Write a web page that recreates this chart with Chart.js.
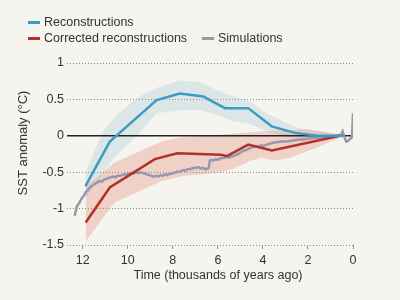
<!DOCTYPE html>
<html>
<head>
<meta charset="utf-8">
<script src="https://cdn.jsdelivr.net/npm/chart.js@4.4.1/dist/chart.umd.min.js"></script>
<style>
  html, body { margin: 0; padding: 0; background: #f5f4ee; }
  #wrap { position: relative; width: 400px; height: 300px; }
  #legend { position: absolute; left: 0; top: 0; width: 400px; height: 50px;
            font: 12.5px "Liberation Sans", Arial, sans-serif; color: #333; }
  .swatch { position: absolute; width: 12px; height: 3px; }
  .label { position: absolute; white-space: nowrap; line-height: 14px; }
</style>
</head>
<body>
<div id="wrap">
  <canvas id="chart" width="400" height="300"></canvas>
  <div id="legend"></div>
</div>
<script>
const timeTicks = [12, 10, 8, 6, 4, 2, 0];
const anomalyTicks = [1, 0.5, 0, -0.5, -1, -1.5];
const xTitle = 'Time (thousands of years ago)';
const yTitle = 'SST anomaly (°C)';
const legendLabels = ['Reconstructions', 'Corrected reconstructions', 'Simulations'];

// Reconstructions (blue)
const reconTime = [11.88, 10.8, 8.72, 7.69, 6.65, 5.69, 4.65, 3.61, 2.58, 1.6, 0.5];
const reconValues = [-0.69, -0.08, 0.49, 0.58, 0.54, 0.38, 0.38, 0.13, 0.04, 0.0, 0.0];
const reconUpperTime = [11.88, 11.1, 10.5, 9.6, 8.7, 7.7, 6.8, 6.06, 5.33, 4.58, 3.84, 3.1, 2.36, 1.6, 0.5];
const reconUpper = [-0.50, 0.06, 0.28, 0.52, 0.66, 0.76, 0.74, 0.63, 0.54, 0.47, 0.31, 0.20, 0.10, 0.06, 0.01];
const reconLowerTime = [11.88, 11.2, 10.6, 9.6, 8.7, 7.7, 6.8, 6.06, 5.33, 4.58, 3.84, 3.1, 2.36, 1.6, 0.5];
const reconLower = [-0.86, -0.55, -0.30, 0.0, 0.31, 0.35, 0.35, 0.29, 0.20, 0.17, 0.06, -0.01, -0.03, -0.03, -0.02];

// Corrected reconstructions (red)
const corrTime = [11.87, 10.8, 8.8, 7.8, 5.85, 5.6, 4.65, 3.6, 0.58];
const corrValues = [-1.19, -0.71, -0.32, -0.24, -0.26, -0.28, -0.12, -0.20, 0.0];
const corrUpperTime = [11.87, 10.6, 8.5, 7.6, 6.0, 5.0, 4.1, 2.8, 2.0, 1.3, 0.6];
const corrUpper = [-0.70, -0.37, -0.08, -0.02, 0.01, 0.04, 0.06, 0.08, 0.09, 0.06, 0.01];
const corrLowerTime = [11.87, 10.6, 8.5, 7.5, 6.0, 5.3, 4.6, 4.1, 3.5, 2.8, 2.0, 1.3, 0.6];
const corrLower = [-1.45, -0.92, -0.62, -0.55, -0.51, -0.45, -0.35, -0.30, -0.34, -0.30, -0.21, -0.12, -0.03];

// Simulations (grey)
const simTime = [12.36, 12.3, 12.25, 12.15, 12.05, 11.95, 11.85, 11.75, 11.65, 11.55, 11.45, 11.35, 11.25, 11.15,
  11.05, 10.95, 10.85, 10.75, 10.65, 10.55, 10.45, 10.35, 10.25, 10.15, 10.05, 9.95, 9.85, 9.75, 9.65, 9.55,
  9.45, 9.35, 9.25, 9.15, 9.05, 8.95, 8.85, 8.75, 8.65, 8.55, 8.45, 8.35, 8.25, 8.15, 8.05, 7.95, 7.85, 7.75,
  7.65, 7.55, 7.45, 7.35, 7.25, 7.15, 7.05, 6.95, 6.85, 6.75, 6.65, 6.55, 6.45, 6.4, 6.36, 6.3, 6.2, 6.1, 6.0,
  5.9, 5.8, 5.7, 5.6, 5.5, 5.4, 5.3, 5.2, 5.1, 5.0, 4.9, 4.8, 4.7, 4.6, 4.5, 4.4, 4.3, 4.2, 4.1, 4.0, 3.8, 3.6,
  3.4, 3.2, 3.0, 2.8, 2.6, 2.4, 2.2, 2.0, 1.8, 1.6, 1.4, 1.2, 1.0, 0.8, 0.6, 0.55, 0.46, 0.38, 0.3, 0.22, 0.12,
  0.05, 0.02, 0.0];
const simValues = [-1.10, -1.02, -0.96, -0.92, -0.86, -0.82, -0.77, -0.74, -0.70, -0.68, -0.66, -0.64, -0.62, -0.63,
  -0.60, -0.59, -0.58, -0.57, -0.56, -0.57, -0.55, -0.55, -0.54, -0.53, -0.53, -0.52, -0.51, -0.52, -0.50, -0.51,
  -0.50, -0.51, -0.52, -0.53, -0.54, -0.55, -0.56, -0.55, -0.56, -0.54, -0.55, -0.53, -0.54, -0.52, -0.52, -0.51,
  -0.50, -0.49, -0.49, -0.47, -0.48, -0.46, -0.46, -0.45, -0.44, -0.44, -0.43, -0.45, -0.44, -0.46, -0.45, -0.44,
  -0.34, -0.33, -0.34, -0.32, -0.33, -0.31, -0.31, -0.30, -0.29, -0.30, -0.28, -0.28, -0.26, -0.25, -0.23, -0.21,
  -0.20, -0.19, -0.17, -0.16, -0.15, -0.14, -0.15, -0.13, -0.14, -0.12, -0.10, -0.09, -0.08, -0.08, -0.07, -0.06,
  -0.05, -0.05, -0.04, -0.03, -0.03, -0.02, -0.02, -0.01, 0.0, 0.01, 0.0, 0.06, -0.02, -0.08, -0.07, -0.04,
  -0.02, 0.15, 0.31];

const zeroTime = [12.7, 0];
const zeroValues = [0, 0];

const blue = '#3b9bc2';
const red = '#b3302b';
const grey = '#9797af';
const textColor = '#333';
const font = { family: '"Liberation Sans", Arial, sans-serif', size: 12.5 };

const pts = (xs, ys) => xs.map((x, i) => ({ x: x, y: ys[i] }));

function lineSet(data, color, width, order, extra) {
  return Object.assign({
    data: data, borderColor: color, borderWidth: width, pointRadius: 0,
    tension: 0, fill: false, order: order
  }, extra || {});
}

const axisTitles = {
  id: 'axisTitles',
  afterDraw(chart) {
    const { ctx, chartArea } = chart;
    ctx.save();
    ctx.fillStyle = textColor;
    ctx.font = '12.5px "Liberation Sans", Arial, sans-serif';
    ctx.textAlign = 'center';
    ctx.textBaseline = 'middle';
    ctx.fillText(xTitle, chartArea.left + 151, 276);
    ctx.translate(23, 143);
    ctx.rotate(-Math.PI / 2);
    ctx.font = '13px "Liberation Sans", Arial, sans-serif';
    ctx.fillText(yTitle, 0, 0);
    ctx.restore();
  }
};

new Chart(document.getElementById('chart'), {
  type: 'line',
  data: {
    datasets: [
      lineSet(pts(reconUpperTime, reconUpper), 'rgba(0,0,0,0)', 0, 6, { fill: '+1', backgroundColor: 'rgba(130,180,205,0.22)' }),
      lineSet(pts(reconLowerTime, reconLower), 'rgba(0,0,0,0)', 0, 6),
      lineSet(pts(corrUpperTime, corrUpper), 'rgba(0,0,0,0)', 0, 5, { fill: '+1', backgroundColor: 'rgba(226,128,108,0.3)' }),
      lineSet(pts(corrLowerTime, corrLower), 'rgba(0,0,0,0)', 0, 5),
      lineSet(pts(zeroTime, zeroValues), '#222', 1.5, 4),
      lineSet(pts(simTime, simValues), grey, 2.5, 3),
      lineSet(pts(corrTime, corrValues), red, 2.5, 2),
      lineSet(pts(reconTime, reconValues), blue, 2.5, 1)
    ]
  },
  options: {
    responsive: false,
    devicePixelRatio: 1,
    animation: false,
    layout: { padding: { left: 0, right: 47, top: 63, bottom: 0 } },
    plugins: { legend: { display: false }, tooltip: { enabled: false } },
    scales: {
      x: {
        type: 'linear', reverse: true, min: 0, max: 12.7,
        afterBuildTicks: s => { s.ticks = timeTicks.map(v => ({ value: v })); },
        afterFit: s => { s.height = 55; },
        grid: { drawOnChartArea: false, drawTicks: true, tickLength: 4, color: '#999', lineWidth: 1 },
        border: { display: false },
        ticks: { color: textColor, font: font, padding: 4, maxRotation: 0, callback: v => String(v) }
      },
      y: {
        min: -1.5, max: 1,
        afterBuildTicks: s => { s.ticks = anomalyTicks.map(v => ({ value: v })); },
        afterFit: s => { s.width = 67; },
        grid: { drawTicks: false, color: '#8c8c8c', lineWidth: 1 },
        border: { display: false, dash: [1, 2] },
        ticks: { color: textColor, font: font, padding: 3, callback: v => String(v) }
      }
    }
  },
  plugins: [axisTitles]
});

// legend
const legend = document.getElementById('legend');
const legendColors = [blue, red, grey];
const legendPos = [[28, 44, 22], [28, 44, 38], [202, 218, 38]];
legendLabels.forEach((txt, i) => {
  const [sx, tx, cy] = legendPos[i];
  const sw = document.createElement('div');
  sw.className = 'swatch';
  sw.style.left = sx + 'px';
  sw.style.top = (cy - 1.5) + 'px';
  sw.style.background = legendColors[i];
  legend.appendChild(sw);
  const lb = document.createElement('div');
  lb.className = 'label';
  lb.style.left = tx + 'px';
  lb.style.top = (cy - 7) + 'px';
  lb.textContent = txt;
  legend.appendChild(lb);
});
</script>
</body>
</html>
